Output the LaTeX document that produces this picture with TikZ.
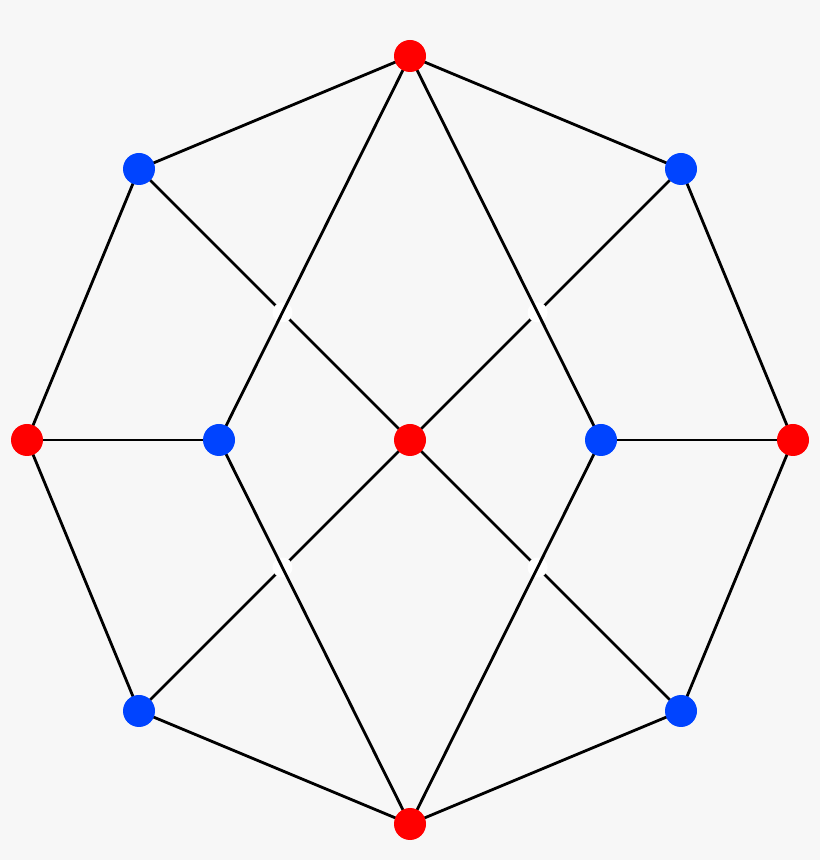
\documentclass[tikz,border=0pt]{standalone}
\usepackage{tikz}
\usepackage{xcolor}
\usetikzlibrary{calc}

\definecolor{bg}{HTML}{F7F7F7}
\definecolor{vred}{HTML}{FF0000}
\definecolor{vblue}{HTML}{0044FF}

\tikzset{
    redv/.style={circle, fill=vred, inner sep=0pt, minimum size=0.32cm},
    bluev/.style={circle, fill=vblue, inner sep=0pt, minimum size=0.32cm},
    link/.style={line width=0.8pt, black},
    gap/.style={fill=white, draw=none}
}

\begin{document}
\begin{tikzpicture}
                        \fill[bg] (0, 0) rectangle (8.2, 8.6);
                        \useasboundingbox (0, 0) rectangle (8.2, 8.6);
                        \coordinate (t) at (4.10, 8.04);
                        \coordinate (b) at (4.10, 0.36);
                        \coordinate (l) at (0.27, 4.20);
                        \coordinate (r) at (7.93, 4.20);
                        \coordinate (c) at (4.10, 4.20);
                        \coordinate (ul) at (1.39, 6.91);
                        \coordinate (ur) at (6.81, 6.91);
                        \coordinate (ll) at (1.39, 1.49);
                        \coordinate (lr) at (6.81, 1.49);
                        \coordinate (il) at (2.19, 4.20);
                        \coordinate (ir) at (6.01, 4.20);
                        % diagonals to the centre (under)
                        \draw[link] (ul) -- (c) (ur) -- (c) (ll) -- (c) (lr) -- (c);
                        % gaps at the crossings
                        \fill[gap] (intersection of ul--c and t--il) circle (0.1);
                        \fill[gap] (intersection of ur--c and t--ir) circle (0.1);
                        \fill[gap] (intersection of ll--c and b--il) circle (0.1);
                        \fill[gap] (intersection of lr--c and b--ir) circle (0.1);
                        % outer octagon and the rest (over)
                        \draw[link] (t) -- (ur) -- (r) -- (lr) -- (b) -- (ll) -- (l) -- (ul) -- cycle;
                        \draw[link] (t) -- (il) -- (b) -- (ir) -- cycle;
                        \draw[link] (l) -- (il) (r) -- (ir);
                        % vertices
                        \node[redv] (vt) at (t) {};
                        \node[redv] (vb) at (b) {};
                        \node[redv] (vl) at (l) {};
                        \node[redv] (vr) at (r) {};
                        \node[redv] (vc) at (c) {};
                        \node[bluev] (vul) at (ul) {};
                        \node[bluev] (vur) at (ur) {};
                        \node[bluev] (vll) at (ll) {};
                        \node[bluev] (vlr) at (lr) {};
                        \node[bluev] (vil) at (il) {};
                        \node[bluev] (vir) at (ir) {};
                    \end{tikzpicture}
\end{document}
